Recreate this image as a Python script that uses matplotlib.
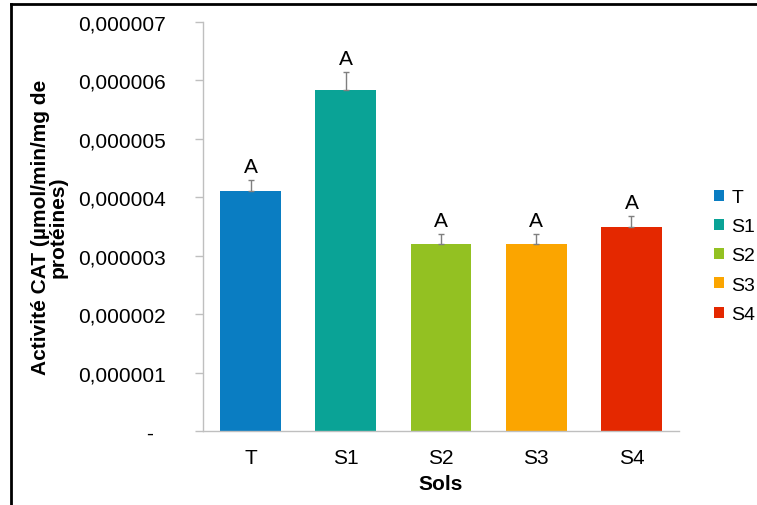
import matplotlib
matplotlib.use("Agg")
import matplotlib.pyplot as plt
from matplotlib.lines import Line2D
from matplotlib.ticker import FixedLocator

plt.rcParams['font.family'] = ['Liberation Sans', 'DejaVu Sans']

# soil samples, CAT activity and standard error
sols = ['T', 'S1', 'S2', 'S3', 'S4']
activite = [4.10e-6, 5.84e-6, 3.20e-6, 3.20e-6, 3.50e-6]
erreur = [0.20e-6, 0.31e-6, 0.17e-6, 0.17e-6, 0.18e-6]
groupes = ['A', 'A', 'A', 'A', 'A']
couleurs = ['#0A7DC2', '#0AA396', '#93C122', '#FBA500', '#E42800']

y_ticks = [0, 1e-6, 2e-6, 3e-6, 4e-6, 5e-6, 6e-6, 7e-6]
y_labels = ['-  ', '0,000001', '0,000002', '0,000003', '0,000004',
            '0,000005', '0,000006', '0,000007']

fig = plt.figure(figsize=(7.57, 5.06), dpi=100)
ax = fig.add_axes([0.2682, 0.1462, 0.6288, 0.8083])

x = list(range(len(sols)))
bars = ax.bar(x, activite, width=0.64, color=couleurs, label=sols, zorder=2)
ax.errorbar(x, activite, yerr=[[0] * len(erreur), erreur], fmt='none',
            ecolor='#7F7F7F', elinewidth=1, capsize=2, capthick=1, zorder=3)

for xi, v, e, g in zip(x, activite, erreur, groupes):
    ax.annotate(g, (xi, v + e), xytext=(0, 3), textcoords='offset points',
                ha='center', va='bottom', fontsize=15)

ax.set_xlim(-0.5, len(sols) - 0.5)
ax.set_ylim(0, 7e-6)
ax.yaxis.set_major_locator(FixedLocator(y_ticks))
ax.set_yticklabels(y_labels)
ax.set_xticks(x)
ax.set_xticklabels(sols)

for side in ['top', 'right']:
    ax.spines[side].set_visible(False)
for side in ['left', 'bottom']:
    ax.spines[side].set_color('#BFBFBF')
    ax.spines[side].set_linewidth(1)

ax.tick_params(axis='y', direction='out', length=6, width=1, color='#BFBFBF',
               pad=21, labelsize=15)
ax.tick_params(axis='x', length=0, pad=12, labelsize=15)

ax.set_xlabel('Sols', fontsize=15, fontweight='bold', labelpad=5)
ax.set_ylabel('Activité CAT (µmol/min/mg de\nprotéines)', fontsize=15,
              fontweight='bold', linespacing=0.95, labelpad=7)

ax.legend(handles=bars, labels=sols, loc='center left',
          bbox_to_anchor=(1.057, 0.428), frameon=False, fontsize=14,
          handlelength=0.5, handleheight=0.5, handletextpad=0.4,
          labelspacing=0.63, borderaxespad=0)

# frame lines on the top and left edges
fig.add_artist(Line2D([11 / 757, 11 / 757], [0, 1 - 5 / 506],
                      color='black', linewidth=2))
fig.add_artist(Line2D([11 / 757, 1], [1 - 5 / 506, 1 - 5 / 506],
                      color='black', linewidth=2))

fig.savefig('out.png', dpi=100)
